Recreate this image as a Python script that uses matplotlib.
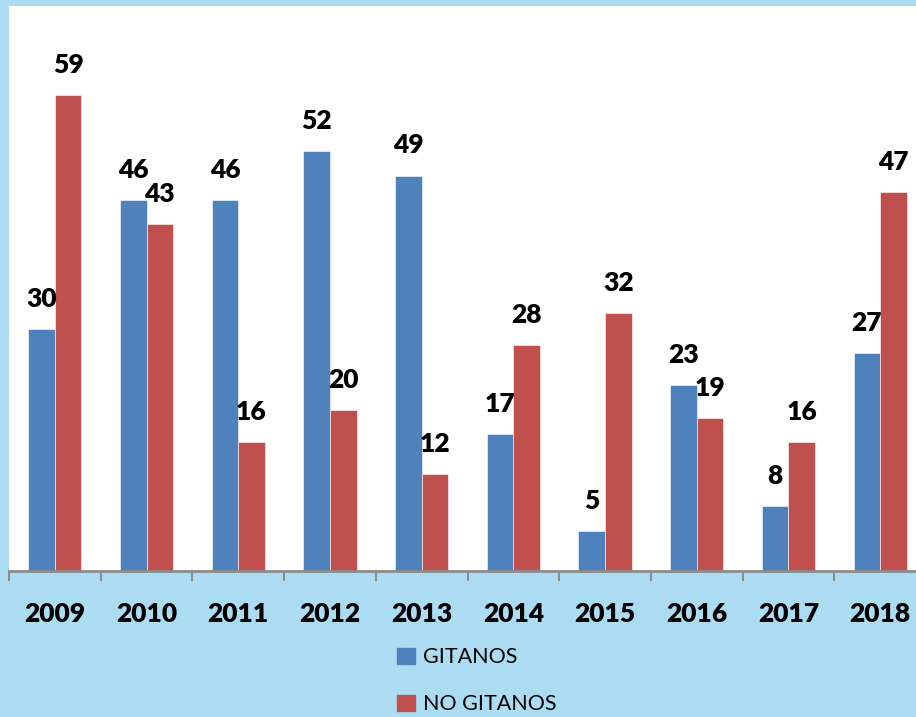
import numpy as np
import matplotlib.pyplot as plt
from matplotlib.patches import Patch

years = ['2009', '2010', '2011', '2012', '2013', '2014', '2015', '2016', '2017', '2018']
gitanos = [30, 46, 46, 52, 49, 17, 5, 23, 8, 27]
no_gitanos = [59, 43, 16, 20, 12, 28, 32, 19, 16, 47]

blue = '#4f81bd'
red = '#c0504d'
bg = '#acdcf2'

plt.rcParams['font.family'] = ['Lato', 'DejaVu Sans']

fig = plt.figure(figsize=(9.16, 7.17), dpi=100, facecolor=bg)
ax = fig.add_axes([9 / 916, 146 / 717, 917 / 916, 565 / 717])
ax.set_facecolor('white')

x = np.arange(len(years))
w = 0.29
b1 = ax.bar(x - w / 2, gitanos, w, color=blue, edgecolor='white', linewidth=0.4)
b2 = ax.bar(x + w / 2, no_gitanos, w, color=red, edgecolor='white', linewidth=0.4)

for bars, vals in ((b1, gitanos), (b2, no_gitanos)):
    for r, v in zip(bars, vals):
        ax.annotate(str(v), (r.get_x() + r.get_width() / 2, v),
                    xytext=(0, 13), textcoords='offset points',
                    ha='center', va='bottom', fontsize=19, fontweight='heavy')

ax.set_xlim(-0.5, 9.5)
ax.set_ylim(0, 70)
ax.set_yticks([])
for s in ('top', 'right', 'left'):
    ax.spines[s].set_visible(False)
ax.spines['bottom'].set_color('#8c8c8c')
ax.spines['bottom'].set_linewidth(2)

ax.set_xticks(np.arange(-0.5, 10, 1))
ax.set_xticklabels([])
ax.tick_params(axis='x', which='major', length=7, width=1.5, color='#8c8c8c')
ax.set_xticks(x, minor=True)
ax.set_xticklabels(years, minor=True, fontsize=19, fontweight='heavy')
ax.tick_params(axis='x', which='minor', length=0, pad=22)

handles = [Patch(color=blue, label='GITANOS'), Patch(color=red, label='NO GITANOS')]
fig.legend(handles=handles, loc='upper left', bbox_to_anchor=(378 / 916, 1 - 628 / 717),
           frameon=False, fontsize=15.5, handlelength=0.8, handleheight=0.8,
           handletextpad=0.4, labelspacing=1.25)

fig.savefig('out.png', dpi=100, facecolor=bg)
